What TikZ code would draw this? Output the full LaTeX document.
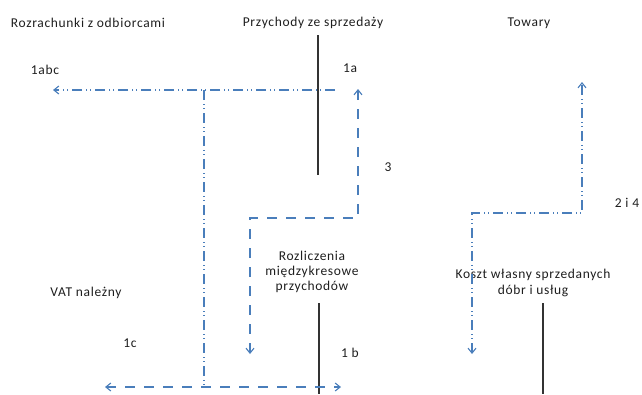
\documentclass[tikz,border=0pt]{standalone}
\usepackage{fontspec}
\setmainfont[LetterSpace=5]{Carlito}
\usetikzlibrary{arrows.meta}
\definecolor{lineblue}{RGB}{74,126,187}
\definecolor{txt}{RGB}{30,30,30}
\tikzset{
  lbl/.style={font=\fontsize{13.5}{15}\selectfont, text=txt, inner sep=0pt, align=center},
  bl/.style={draw=lineblue, line width=1.1pt, arrows={-Straight Barb[length=5pt,width=8pt]}},
  blboth/.style={draw=lineblue, line width=1.1pt, arrows={Straight Barb[length=5pt,width=8pt]-Straight Barb[length=5pt,width=8pt]}},
  dda/.style={dash pattern=on 10pt off 4pt on 1pt off 3pt on 1pt off 4pt},
  dsh/.style={dash pattern=on 10pt off 9pt},
  account/.style={draw=black!80, line width=1.2pt}
}
\begin{document}
\begin{tikzpicture}[x=1pt,y=-1pt]
\useasboundingbox (0,0) rectangle (642,394);
% labels
\node[lbl] (roz) at (88,23) {Rozrachunki z odbiorcami};
\node[lbl] (prz) at (313,23) {Przychody ze sprzedaży};
\node[lbl] (tow) at (529,23) {Towary};
\node[lbl] (l1abc) at (45,70) {1abc};
\node[lbl] (l1a) at (350,68) {1a};
\node[lbl] (l3) at (388,167) {3};
\node[lbl] (l24) at (627,203) {2 i 4};
\node[lbl] (rmp) at (312,272) {Rozliczenia\\[0pt]międzykresowe\\[0pt]przychodów};
\node[lbl] (vat) at (86,293) {VAT należny};
\node[lbl] (l1c) at (130,343) {1c};
\node[lbl] (l1b) at (350,353) {1 b};
\node[lbl] (kw) at (533,283) {Koszt własny sprzedanych\\[1pt]dóbr i usług};
% coordinates
\coordinate (pa2) at (318,35);
\coordinate (pa3) at (318,175);
\coordinate (pb1) at (319,303);
\coordinate (pb2) at (319,394);
\coordinate (pc1) at (543,303);
\coordinate (pc2) at (543,394);
\coordinate (h1) at (335,90);
\coordinate (h2) at (53,90);
\coordinate (tj) at (204,90);
\coordinate (bj) at (204,387);
\coordinate (bl) at (105,387);
\coordinate (br) at (341,387);
\coordinate (m1) at (250,354);
\coordinate (m2) at (250,218);
\coordinate (m3) at (358,218);
\coordinate (m4) at (358,89);
\coordinate (k1) at (472,354);
\coordinate (k2) at (472,213);
\coordinate (k3) at (582,213);
\coordinate (k4) at (582,82);
% black account lines
\draw[account] (pa2) -- (pa3);
\draw[account] (pb1) -- (pb2);
\draw[account] (pc1) -- (pc2);
% blue flows
\draw[bl, dda] (h1) -- (h2);
\draw[draw=lineblue, line width=1.1pt, dda] (tj) -- (bj);
\draw[blboth, dsh] (bl) -- (br);
\draw[blboth, dsh] (m1) -- (m2) -- (m3) -- (m4);
\draw[blboth, dda] (k1) -- (k2) -- (k3) -- (k4);
\end{tikzpicture}
\end{document}
